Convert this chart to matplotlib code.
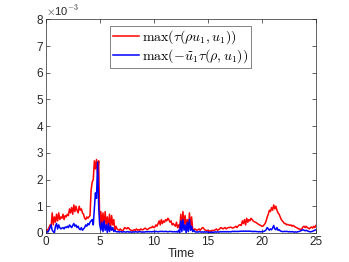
import numpy as np
import matplotlib
matplotlib.use('Agg')
import matplotlib.pyplot as plt

plt.rcParams['font.family'] = ['Liberation Sans', 'DejaVu Sans']
plt.rcParams['mathtext.fontset'] = 'cm'

# time samples (step 0.1)
time = np.arange(0, 251) / 10.0

# max(tau(rho u1, u1)), units of 1e-3
red = [
    0.05, 0.08, 0.12, 0.2, 0.3, 0.25, 0.75, 0.3, 0.6, 0.4,
    0.7, 0.45, 0.75, 0.5, 0.6, 0.55, 0.7, 0.5, 0.65, 0.6,
    0.7, 0.65, 0.9, 0.75, 0.95, 0.7, 1.05, 0.8, 1.0, 0.85,
    0.75, 1.0, 0.85, 0.9, 0.75, 0.7, 0.55, 0.5, 0.6, 0.55,
    0.6, 0.65, 1.6, 1.9, 2.0, 2.7, 2.4, 2.75, 2.2, 2.7,
    0.3, 0.8, 0.35, 0.75, 0.2, 0.8, 0.3, 0.6, 0.15, 0.7,
    0.2, 0.65, 0.3, 0.5, 0.1, 0.25, 0.15, 0.12, 0.1, 0.15,
    0.1, 0.08, 0.12, 0.2, 0.18, 0.15, 0.2, 0.17, 0.12, 0.1,
    0.08, 0.1, 0.12, 0.1, 0.15, 0.1, 0.12, 0.1, 0.15, 0.12,
    0.12, 0.15, 0.18, 0.15, 0.12, 0.15, 0.18, 0.2, 0.2, 0.25,
    0.2, 0.22, 0.3, 0.25, 0.35, 0.45, 0.3, 0.5, 0.35, 0.45,
    0.4, 0.5, 0.45, 0.55, 0.5, 0.4, 0.45, 0.3, 0.35, 0.3,
    0.25, 0.4, 0.2, 0.3, 0.15, 0.7, 0.2, 0.8, 0.3, 0.65,
    0.25, 0.5, 0.1, 0.75, 0.2, 0.6, 0.15, 0.1, 0.15, 0.12,
    0.1, 0.12, 0.15, 0.1, 0.15, 0.2, 0.18, 0.12, 0.1, 0.08,
    0.1, 0.05, 0.08, 0.06, 0.1, 0.08, 0.1, 0.12, 0.15, 0.1,
    0.12, 0.15, 0.2, 0.18, 0.15, 0.18, 0.2, 0.15, 0.18, 0.2,
    0.2, 0.22, 0.2, 0.18, 0.2, 0.22, 0.25, 0.2, 0.25, 0.3,
    0.3, 0.28, 0.45, 0.35, 0.5, 0.3, 0.55, 0.4, 0.5, 0.45,
    0.55, 0.5, 0.45, 0.42, 0.4, 0.38, 0.35, 0.32, 0.3, 0.28,
    0.25, 0.25, 0.3, 0.35, 0.45, 0.6, 0.7, 0.85, 0.8, 0.95,
    0.85, 1.05, 0.9, 1.0, 0.85, 0.75, 0.7, 0.6, 0.5, 0.45,
    0.4, 0.35, 0.35, 0.3, 0.32, 0.3, 0.28, 0.3, 0.25, 0.28,
    0.25, 0.22, 0.2, 0.18, 0.15, 0.15, 0.12, 0.15, 0.22, 0.25,
    0.2, 0.25, 0.2, 0.18, 0.15, 0.2, 0.22, 0.18, 0.25, 0.2,
    0.28,
]

# max(-u1~ tau(rho, u1)), units of 1e-3
blue = [
    0.02, 0.05, 0.03, 0.1, 0.2, 0.3, 0.1, 0.05, 0.0, 0.25,
    0.35, 0.15, 0.3, 0.2, 0.15, 0.18, 0.2, 0.15, 0.22, 0.2,
    0.25, 0.2, 0.3, 0.25, 0.2, 0.28, 0.35, 0.25, 0.3, 0.2,
    0.25, 0.15, 0.12, 0.2, 0.1, 0.15, 0.2, 0.3, 0.25, 0.35,
    0.3, 0.4, 0.45, 0.5, 0.3, 0.9, 1.5, 1.3, 2.65, 1.0,
    0.3, 0.1, 0.4, 0.05, 0.45, 0.1, 0.3, 0.02, 0.35, 0.05,
    0.25, 0.1, 0.2, 0.05, 0.1, 0.05, 0.04, 0.05, 0.03, 0.05,
    0.04, 0.03, 0.05, 0.04, 0.03, 0.04, 0.05, 0.03, 0.04, 0.03,
    0.03, 0.04, 0.03, 0.05, 0.04, 0.03, 0.04, 0.05, 0.04, 0.03,
    0.04, 0.03, 0.04, 0.05, 0.04, 0.05, 0.04, 0.05, 0.04, 0.05,
    0.05, 0.04, 0.06, 0.05, 0.04, 0.05, 0.06, 0.05, 0.06, 0.05,
    0.05, 0.06, 0.05, 0.04, 0.05, 0.06, 0.05, 0.05, 0.04, 0.05,
    0.04, 0.05, 0.03, 0.1, 0.0, 0.45, 0.05, 0.5, 0.1, 0.3,
    0.0, 0.4, 0.05, 0.5, 0.1, 0.25, 0.05, 0.1, 0.05, 0.03,
    0.04, 0.03, 0.05, 0.04, 0.03, 0.04, 0.03, 0.04, 0.03, 0.04,
    0.03, 0.02, 0.03, 0.02, 0.03, 0.02, 0.03, 0.04, 0.03, 0.04,
    0.03, 0.04, 0.05, 0.04, 0.05, 0.04, 0.05, 0.04, 0.05, 0.04,
    0.05, 0.04, 0.05, 0.06, 0.05, 0.06, 0.05, 0.06, 0.05, 0.06,
    0.06, 0.07, 0.06, 0.07, 0.06, 0.07, 0.06, 0.07, 0.06, 0.07,
    0.06, 0.05, 0.06, 0.05, 0.06, 0.05, 0.05, 0.04, 0.05, 0.04,
    0.05, 0.05, 0.06, 0.08, 0.12, 0.2, 0.15, 0.1, 0.15, 0.12,
    0.18, 0.28, 0.15, 0.12, 0.2, 0.1, 0.12, 0.08, 0.06, 0.05,
    0.05, 0.06, 0.05, 0.06, 0.05, 0.04, 0.05, 0.04, 0.05, 0.04,
    0.03, 0.04, 0.03, 0.04, 0.05, 0.06, 0.08, 0.1, 0.12, 0.1,
    0.08, 0.1, 0.08, 0.06, 0.05, 0.04, 0.05, 0.06, 0.08, 0.1,
    0.12,
]

red = np.array(red) * 1e-3
blue = np.array(blue) * 1e-3

fig = plt.figure(figsize=(3.49, 2.62), dpi=100)
ax = fig.add_axes([0.131, 0.111, 0.774, 0.815])

ax.plot(time, red, color=(1, 0, 0), lw=1.1,
        label=r'$\max(\tau(\rho u_1, u_1))$')
ax.plot(time, blue, color=(0, 0, 1), lw=1.1,
        label=r'$\max(-\widetilde{u}_1 \tau(\rho, u_1))$')

ax.set_xlim(0, 25)
ax.set_ylim(0, 8e-3)
ax.set_xticks([0, 5, 10, 15, 20, 25])
ax.set_yticks(np.arange(0, 9) * 1e-3)
ax.set_yticklabels([str(i) for i in range(9)])

grey = (0.15, 0.15, 0.15)
ax.tick_params(direction='in', top=True, right=True, length=3, width=0.5,
               labelsize=8.5, colors=grey, pad=2)
for s in ax.spines.values():
    s.set_color(grey)
    s.set_linewidth(0.5)

ax.text(0.0, 1.005, r'$\times$10$^{-3}$', transform=ax.transAxes,
        fontsize=8, color=grey, ha='left', va='bottom',
        family='Liberation Sans')
ax.set_xlabel('Time', fontsize=9, color=grey, labelpad=0)

leg = ax.legend(loc='upper center', bbox_to_anchor=(0.5, 0.99), fontsize=10,
                frameon=True, fancybox=False, borderpad=0.2,
                handlelength=1.9, handletextpad=0.2, labelspacing=0.1,
                borderaxespad=0.3)
leg.get_frame().set_edgecolor(grey)
leg.get_frame().set_linewidth(0.5)

fig.savefig('out.png', dpi=100)
